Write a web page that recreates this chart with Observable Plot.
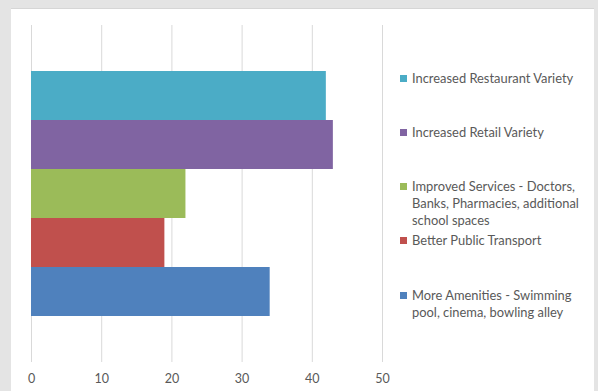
<!DOCTYPE html>
<html>
<head>
<meta charset="utf-8">
<script src="https://cdn.jsdelivr.net/npm/d3@7"></script>
<script src="https://cdn.jsdelivr.net/npm/@observablehq/plot@0.6"></script>
<style>
  html, body { margin: 0; padding: 0; overflow: hidden; background: #e4e4e4; }
  #panel { position: absolute; left: 11px; top: 8px; width: 583px; height: 390px; background: #fff; border-top: 1px solid #d6d6d6; }
  #chart { position: absolute; left: 0; top: 0; }
  #legend { position: absolute; left: 0; top: 0; width: 598px; height: 391px; font-family: Lato, "Open Sans", sans-serif; font-size: 12.9px; color: #595959; }
  .item { position: absolute; white-space: pre; line-height: 17px; padding-left: 12px; }
  .sw { position: absolute; left: 0; top: 5px; width: 7px; height: 7px; }
</style>
</head>
<body>
<div id="panel"></div>
<div id="chart"></div>
<div id="legend"></div>
<script>
const categories = [
  "Increased Restaurant Variety",
  "Increased Retail Variety",
  "Improved Services - Doctors, Banks, Pharmacies, additional school spaces",
  "Better Public Transport",
  "More Amenities - Swimming pool, cinema, bowling alley"
];
const legendLabels = [
  "Increased Restaurant Variety",
  "Increased Retail Variety",
  "Improved Services - Doctors,\nBanks, Pharmacies, additional\nschool spaces",
  "Better Public Transport",
  "More Amenities - Swimming\npool, cinema, bowling alley"
];
const values = [42, 43, 22, 19, 34];
const colors = ["#4BACC6", "#8064A2", "#9BBB59", "#C0504D", "#4F81BD"];
const xTicks = [0, 10, 20, 30, 40, 50];

const data = categories.map((c, i) => ({category: c, value: values[i]}));

const chart = Plot.plot({
  width: 598,
  height: 391,
  marginLeft: 31,
  marginRight: 216,
  marginTop: 25,
  marginBottom: 29,
  style: {background: "transparent", fontFamily: "Lato, 'Open Sans', sans-serif", fontSize: "12.5px", color: "#595959"},
  x: {domain: [0, 50], ticks: xTicks, tickSize: 0, tickPadding: 12, label: null},
  y: {domain: categories, paddingInner: 0, paddingOuter: 0.91, axis: null},
  color: {domain: categories, range: colors},
  marks: [
    Plot.gridX(xTicks, {stroke: "#d9d9d9", strokeOpacity: 1, strokeWidth: 1}),
    Plot.barX(data, {x: "value", y: "category", fill: "category"}),
    Plot.axisX(xTicks, {tickSize: 0, tickPadding: 12, fill: "#595959", label: null})
  ]
});
document.getElementById("chart").appendChild(chart);

const legend = document.getElementById("legend");
const firstLine = [78, 132, 186, 240, 295];
legendLabels.forEach((lab, i) => {
  const d = document.createElement("div");
  d.className = "item";
  d.style.left = "400px";
  d.style.top = (firstLine[i] - 8.5) + "px";
  const s = document.createElement("span");
  s.className = "sw";
  s.style.background = colors[i];
  d.appendChild(s);
  d.appendChild(document.createTextNode(lab));
  legend.appendChild(d);
});
</script>
</body>
</html>
